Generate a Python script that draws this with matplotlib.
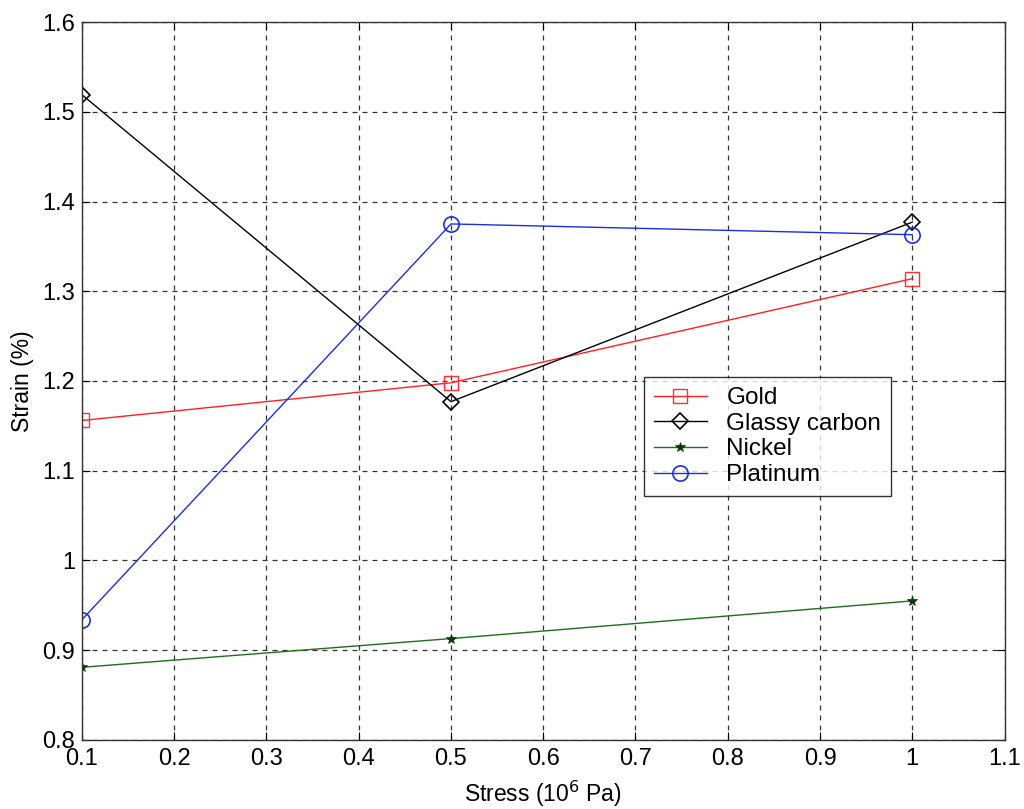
import numpy as np
import matplotlib
matplotlib.use('Agg')
import matplotlib.pyplot as plt

plt.rcParams['font.family'] = ['Liberation Sans', 'DejaVu Sans']

# Stress (10^6 Pa) vs strain (%)
stress = [0.1, 0.5, 1.0]
gold = [1.156, 1.198, 1.314]
glassy_carbon = [1.519, 1.177, 1.377]
nickel = [0.881, 0.913, 0.955]
platinum = [0.934, 1.375, 1.363]

x_ticks = [0.1, 0.2, 0.3, 0.4, 0.5, 0.6, 0.7, 0.8, 0.9, 1, 1.1]
x_labels = ['0.1', '0.2', '0.3', '0.4', '0.5', '0.6', '0.7', '0.8', '0.9', '1', '1.1']
y_ticks = [0.8, 0.9, 1.0, 1.1, 1.2, 1.3, 1.4, 1.5, 1.6]
y_labels = ['0.8', '0.9', '1', '1.1', '1.2', '1.3', '1.4', '1.5', '1.6']

fig = plt.figure(figsize=(10.24, 8.09), dpi=100)
ax = fig.add_axes([0.080, 0.0853, 0.901, 0.8875])

ax.plot(stress, gold, color='#ff2020', lw=1, marker='s', ms=10,
        mfc='none', mec='#ff3030', mew=1, label='Gold')
ax.plot(stress, glassy_carbon, color='black', lw=1, marker='D', ms=8,
        mfc='none', mec='black', mew=1.2, label='Glassy carbon')
ax.plot(stress, nickel, color='#1e6e1e', lw=1, marker='*', ms=7,
        mfc='#0a3a0a', mec='#0a3a0a', mew=0.5, label='Nickel')
ax.plot(stress, platinum, color='#1a2fe0', lw=1, marker='o', ms=11,
        mfc='none', mec='#1a2fe0', mew=1.2, label='Platinum')

ax.set_xlim(0.1, 1.1)
ax.set_ylim(0.8, 1.6)
ax.set_xticks(x_ticks)
ax.set_xticklabels(x_labels)
ax.set_yticks(y_ticks)
ax.set_yticklabels(y_labels)
ax.tick_params(direction='in', top=True, right=True, labelsize=17, length=6)
ax.tick_params(axis='x', pad=6)
ax.tick_params(axis='y', pad=5)
ax.grid(True, color='#333333', linestyle=(0, (4, 4)), lw=0.9)
for s in ax.spines.values():
    s.set_color('#333333')
    s.set_linewidth(1)

ax.set_xlabel('Stress (10$^6$ Pa)', fontsize=16.5, labelpad=6)
ax.set_ylabel('Strain (%)', fontsize=16.5, labelpad=6)

leg = ax.legend(loc='upper left', bbox_to_anchor=(0.609, 0.505), fontsize=17.5,
                frameon=True, fancybox=False, edgecolor='black',
                handlelength=2.2, borderpad=0.4, labelspacing=0.15,
                handletextpad=0.8, borderaxespad=0)
leg.get_frame().set_linewidth(1)

fig.savefig('out.png', dpi=100)
